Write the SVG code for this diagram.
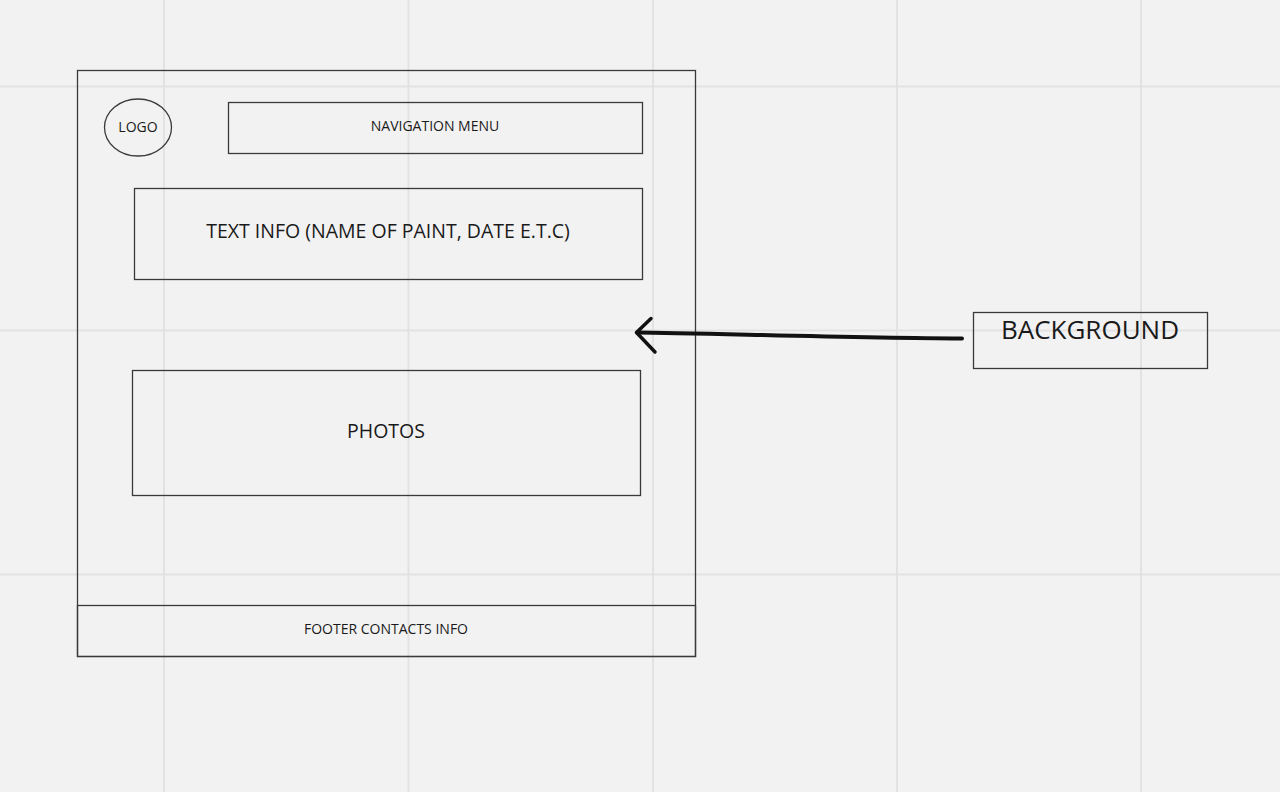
<svg xmlns="http://www.w3.org/2000/svg" width="1280" height="792" viewBox="0 0 1280 792">
<style>
.grid{stroke:#e2e2e2;stroke-width:2;fill:none}
.box{fill:none;stroke:#3a3a3a;stroke-width:1.3}
.t{font-family:"Open Sans","Noto Sans","Liberation Sans",sans-serif;fill:#1a1a1a;text-anchor:middle;dominant-baseline:central}
.s{font-size:14px}
.m{font-size:19.5px}
.l{font-size:26px}
</style>
<rect width="1280" height="792" fill="#f2f2f2"/>
<g id="grid">
<path class="grid" d="M164 0V792M408.5 0V792M653 0V792M897 0V792M1141 0V792M0 86.5H1280M0 330.5H1280M0 574.5H1280"/>
</g>
<g id="page">
<rect class="box" x="77.5" y="70.5" width="618" height="586" stroke="#2a2a2a"/>
</g>
<g id="logo">
<ellipse class="box" cx="138" cy="127.5" rx="33.5" ry="28.5"/>
<text class="t s" x="138" y="126">LOGO</text>
</g>
<g id="nav">
<rect class="box" x="228.5" y="102.5" width="414" height="51"/>
<text class="t s" x="435" y="125">NAVIGATION MENU</text>
</g>
<g id="textinfo">
<rect class="box" x="134.5" y="188.5" width="508" height="91"/>
<text class="t m" x="388" y="230.5">TEXT INFO (NAME OF PAINT, DATE E.T.C)</text>
</g>
<g id="photos">
<rect class="box" x="132.5" y="370.5" width="508" height="125"/>
<text class="t m" x="386" y="430">PHOTOS</text>
</g>
<g id="footer">
<rect class="box" x="77.5" y="605.5" width="618" height="51" stroke="#2a2a2a"/>
<text class="t s" x="386" y="628">FOOTER CONTACTS INFO</text>
</g>
<g id="background">
<rect class="box" x="973.5" y="312.5" width="234" height="56" stroke="#555"/>
<text class="t l" x="1090" y="329">BACKGROUND</text>
</g>
<g id="connectors" fill="none" stroke="#111" stroke-linecap="round" stroke-linejoin="round">
<path d="M962 338.5C850 338 700 333 637 332.5" stroke-width="4"/>
<path d="M651 318.5L636.5 332.5L655 352" stroke-width="3.5"/>
</g>
</svg>
